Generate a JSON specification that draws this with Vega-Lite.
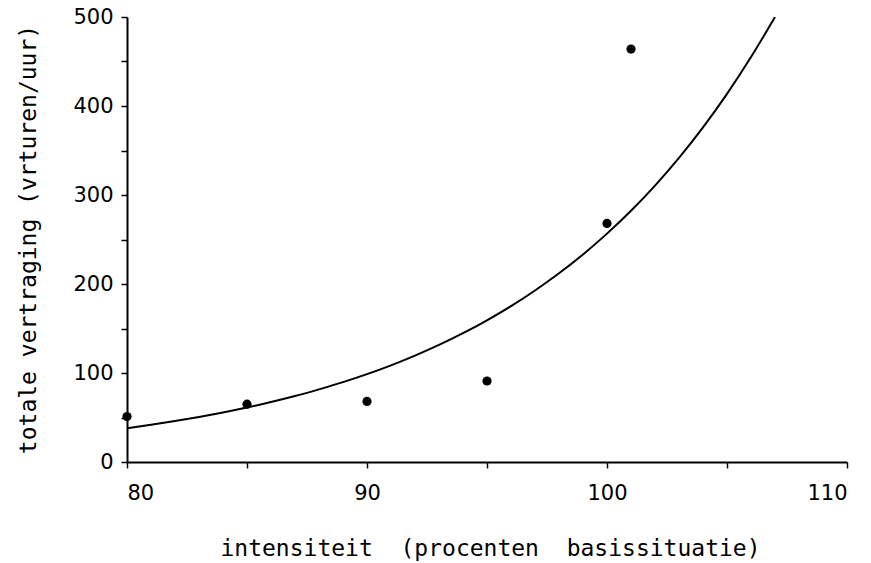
{
  "$schema": "https://vega.github.io/schema/vega-lite/v6.json",
  "width": 720,
  "height": 445,
  "autosize": "none",
  "padding": {"left": 127, "top": 17, "right": 24, "bottom": 101},
  "background": "white",
  "config": {
    "view": {"stroke": null},
    "font": "DejaVu Sans",
    "axis": {
      "grid": false,
      "domainColor": "black",
      "domainWidth": 2,
      "tickColor": "black",
      "tickWidth": 1.5,
      "tickSize": 6,
      "labelColor": "black",
      "labelFont": "DejaVu Sans",
      "labelFontSize": 21,
      "titleFont": "DejaVu Sans Mono",
      "titleFontSize": 23,
      "titleFontWeight": "normal",
      "titleColor": "black"
    }
  },
  "datasets": {
    "points": [
      {"x": 80, "y": 51},
      {"x": 85, "y": 65},
      {"x": 90, "y": 68},
      {"x": 95, "y": 91},
      {"x": 100, "y": 268},
      {"x": 101, "y": 464}
    ],
    "curve": [
      {"x": 80, "y": 38.0},
      {"x": 81, "y": 41.8},
      {"x": 82, "y": 46.0},
      {"x": 83, "y": 50.6},
      {"x": 84, "y": 55.7},
      {"x": 85, "y": 61.3},
      {"x": 86, "y": 67.4},
      {"x": 87, "y": 74.1},
      {"x": 88, "y": 81.6},
      {"x": 89, "y": 89.7},
      {"x": 90, "y": 98.7},
      {"x": 91, "y": 108.6},
      {"x": 92, "y": 119.5},
      {"x": 93, "y": 131.5},
      {"x": 94, "y": 144.7},
      {"x": 95, "y": 159.2},
      {"x": 96, "y": 175.1},
      {"x": 97, "y": 192.7},
      {"x": 98, "y": 212.0},
      {"x": 99, "y": 233.2},
      {"x": 100, "y": 256.6},
      {"x": 101, "y": 282.3},
      {"x": 102, "y": 310.6},
      {"x": 103, "y": 341.7},
      {"x": 104, "y": 375.9},
      {"x": 105, "y": 413.6},
      {"x": 106, "y": 455.0},
      {"x": 107, "y": 500.0}
    ]
  },
  "encoding": {
    "x": {
      "field": "x",
      "type": "quantitative",
      "scale": {"domain": [80, 110], "nice": false, "zero": false},
      "axis": {
        "title": "intensiteit\u00a0\u00a0(procenten\u00a0\u00a0basissituatie)",
        "values": [80, 85, 90, 95, 100, 105, 110],
        "labelExpr": "datum.value % 10 == 0 ? datum.label : ''",
        "labelPadding": 14,
        "titleX": 363,
        "titleY": 86,
        "titleBaseline": "middle",
        "titleAnchor": "middle"
      }
    },
    "y": {
      "field": "y",
      "type": "quantitative",
      "scale": {"domain": [0, 500], "nice": false},
      "axis": {
        "title": "totale\u00a0vertraging\u00a0(vrturen/uur)",
        "values": [0, 50, 100, 150, 200, 250, 300, 350, 400, 450, 500],
        "labelExpr": "datum.value % 100 == 0 ? datum.label : ''",
        "labelPadding": 8,
        "titleX": -99,
        "titleY": 222,
        "titleBaseline": "middle",
        "titleAnchor": "middle",
        "titleAngle": -90
      }
    }
  },
  "layer": [
    {
      "data": {"name": "curve"},
      "mark": {"type": "line", "color": "black", "strokeWidth": 2, "interpolate": "monotone", "clip": true}
    },
    {
      "data": {"name": "points"},
      "mark": {"type": "circle", "color": "black", "opacity": 1, "size": 85}
    }
  ]
}
